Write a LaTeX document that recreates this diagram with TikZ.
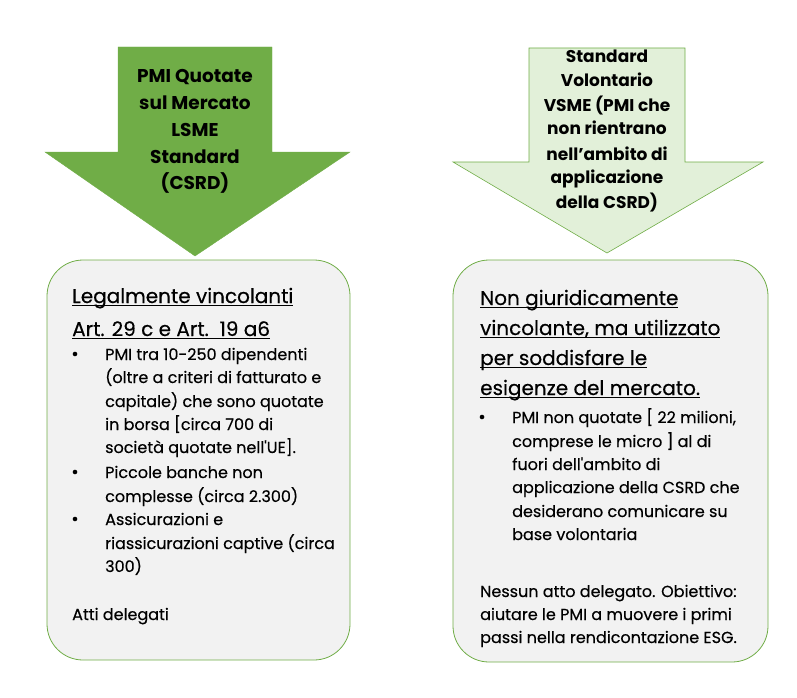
\documentclass[tikz,border=0pt]{standalone}
\usepackage{fontspec}
\setmainfont{Poppins}
\newfontfamily\bodyfont{Poppins}[FakeBold=0.35]
\definecolor{gdark}{HTML}{70AD47}
\definecolor{glight}{HTML}{E2F0D9}
\definecolor{boxfill}{HTML}{F2F2F2}
\newcommand\myul[1]{\setbox0\hbox{#1}\rlap{\rule[-2.8pt]{\wd0}{0.9pt}}\box0}
\begin{document}
\begin{tikzpicture}[x=1pt,y=-1pt,
  lnA/.style={anchor=base,inner sep=0pt,font=\fontsize{18.5}{20}\selectfont\bfseries},
  lnB/.style={anchor=base,inner sep=0pt,font=\fontsize{17}{20}\selectfont\bfseries},
  head/.style={anchor=base west,inner sep=0pt,font=\bodyfont\fontsize{20}{24}\selectfont},
  body/.style={anchor=base west,inner sep=0pt,font=\bodyfont\fontsize{16}{18}\selectfont},
  bul/.style={anchor=base,inner sep=0pt,font=\bodyfont\fontsize{18}{18}\selectfont},
  card/.style={draw=gdark,line width=0.8pt,fill=boxfill,rounded corners=36pt,inner sep=0pt}]
\useasboundingbox (0,0) rectangle (797,698);
% arrows
\draw[fill=gdark,draw=gdark] (118,47) -- (272,47) -- (272,152) -- (350,152) -- (195,256) -- (45,152) -- (118,152) -- cycle;
\draw[fill=glight,draw=gdark,line width=0.6pt] (529,48) -- (685,48) -- (685,162) -- (763,162) -- (607,253) -- (453,162) -- (529,162) -- cycle;
% cards
\node[card,minimum width=303pt,minimum height=400pt] (lcard) at (198.5,460) {};
\node[card,minimum width=315pt,minimum height=402pt] (rcard) at (610.5,461) {};
% left arrow text
\node[lnA] (a1) at (195,83) {PMI Quotate};
\node[lnA] (a2) at (195,110) {sul Mercato};
\node[lnA] (a3) at (195,136) {LSME};
\node[lnA] (a4) at (195,163) {Standard};
\node[lnA] (a5) at (195,189) {(CSRD)};
% right arrow text
\node[lnB] (b1) at (607,63) {Standard};
\node[lnB] (b2) at (607,87) {Volontario};
\node[lnB] (b3) at (607,112) {VSME (PMI che};
\node[lnB] (b4) at (607,135) {non rientrano};
\node[lnB] (b5) at (607,160) {nell’ambito di};
\node[lnB] (b6) at (607,183) {applicazione};
\node[lnB] (b7) at (607,208) {della CSRD)};
% left card text
\node[head] (h1) at (72,303) {\myul{Legalmente vincolanti}};
\node[head] (h2) at (72,336) {\myul{Art. 29 c e Art.\ \ 19 a6}};
\node[bul] (p1) at (75,360) {•};
\node[body] (t1) at (105,360) {PMI tra 10-250 dipendenti};
\node[body] (t2) at (105,383) {(oltre a criteri di fatturato e};
\node[body] (t3) at (105,407) {capitale) che sono quotate};
\node[body] (t4) at (105,430) {in borsa [circa 700 di};
\node[body] (t5) at (105,453) {società quotate nell'UE].};
\node[bul] (p2) at (75,478) {•};
\node[body] (t6) at (105,478) {Piccole banche non};
\node[body] (t7) at (105,502) {complesse (circa 2.300)};
\node[bul] (p3) at (75,525) {•};
\node[body] (t8) at (105,525) {Assicurazioni e};
\node[body] (t9) at (105,549) {riassicurazioni captive (circa};
\node[body] (t10) at (105,572) {300)};
\node[body] (t11) at (72,620) {Atti delegati};
% right card text
\node[head] (k1) at (480,305) {\myul{Non giuridicamente}};
\node[head] (k2) at (480,335) {\myul{vincolante, ma utilizzato}};
\node[head] (k3) at (480,365) {\myul{per soddisfare le}};
\node[head] (k4) at (480,395) {\myul{esigenze del mercato.}};
\node[bul] (q1) at (482,423) {•};
\node[body] (s1) at (512,423) {PMI non quotate [ 22 milioni,};
\node[body] (s2) at (512,447) {comprese le micro ] al di};
\node[body] (s3) at (512,470) {fuori dell'ambito di};
\node[body] (s4) at (512,493) {applicazione della CSRD che};
\node[body] (s5) at (512,517) {desiderano comunicare su};
\node[body] (s6) at (512,540) {base volontaria};
\node[body] (s7) at (480,597) {Nessun atto delegato. Obiettivo:};
\node[body] (s8) at (480,620) {aiutare le PMI a muovere i primi};
\node[body] (s9) at (480,643) {passi nella rendicontazione ESG.};
\end{tikzpicture}
\end{document}
